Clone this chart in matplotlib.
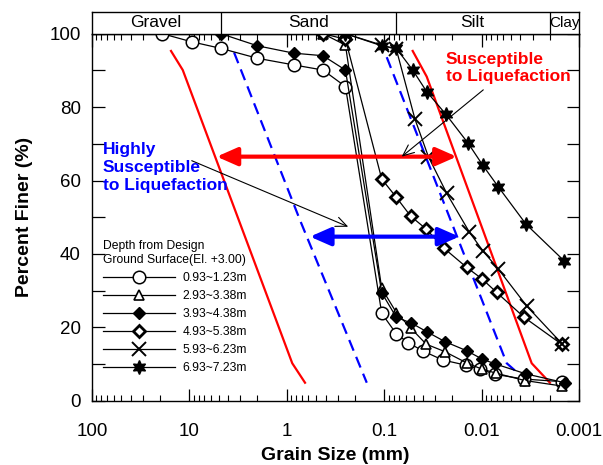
import matplotlib
matplotlib.use("Agg")
import matplotlib.pyplot as plt
from matplotlib.patches import FancyArrowPatch
from matplotlib.ticker import FixedLocator, FuncFormatter, LogLocator, NullFormatter

plt.rcParams['font.family'] = ['Liberation Sans', 'DejaVu Sans']

# ---------------- data ----------------
labels = ["0.93~1.23m", "2.93~3.38m", "3.93~4.38m", "4.93~5.38m", "5.93~6.23m", "6.93~7.23m"]

d1 = [19, 9.5, 4.75, 2.0, 0.85, 0.425, 0.25, 0.106, 0.075, 0.0566, 0.0397, 0.0251, 0.0146, 0.0104, 0.0073, 0.0037, 0.0015]
p1 = [100, 97.8, 96.0, 93.3, 91.5, 90.1, 85.6, 23.8, 18.2, 15.8, 13.5, 11.1, 9.7, 8.6, 7.2, 5.9, 5.2]

d2 = [0.425, 0.25, 0.106, 0.075, 0.053, 0.037, 0.024, 0.014, 0.0099, 0.0071, 0.0036, 0.0015]
p2 = [100, 96.9, 30.6, 24.0, 19.7, 15.4, 13.4, 10.2, 8.6, 7.5, 5.5, 4.0]

d3 = [4.75, 2.0, 0.85, 0.425, 0.25, 0.106, 0.075, 0.053, 0.0366, 0.0238, 0.0142, 0.0098, 0.0072, 0.0035, 0.0014]
p3 = [100, 96.7, 94.7, 94.0, 90.1, 29.4, 22.7, 21.2, 18.8, 16.1, 13.6, 11.3, 10.0, 7.3, 4.9]

d4 = [0.425, 0.25, 0.106, 0.075, 0.0535, 0.0372, 0.0242, 0.0142, 0.0099, 0.0070, 0.00365, 0.00151]
p4 = [100, 98.5, 60.4, 55.4, 50.3, 46.8, 41.5, 36.3, 33.2, 29.5, 22.7, 15.4]

d5 = [0.25, 0.106, 0.075, 0.0483, 0.0352, 0.0228, 0.0134, 0.00975, 0.00675, 0.00344, 0.00148]
p5 = [100, 96.9, 95.7, 76.7, 66.5, 56.5, 46.0, 40.9, 35.9, 25.8, 15.4]

d6 = [0.25, 0.106, 0.075, 0.051, 0.0366, 0.0232, 0.0137, 0.00975, 0.00675, 0.0035, 0.00142]
p6 = [100, 96.7, 96.0, 90.1, 84.2, 78.0, 70.1, 64.2, 58.3, 48.1, 38.1]

# boundary curves
red_left_d = [15.45, 11.7, 0.879, 0.65]
red_left_p = [95.3, 90.1, 10.2, 4.9]
red_right_d = [0.051, 0.0366, 0.00306, 0.00199]
red_right_p = [95.3, 88.3, 10.2, 4.9]
blue_left_d = [3.48, 0.732, 0.151]
blue_left_p = [94.9, 49.2, 4.9]
blue_right_d = [0.0942, 0.00552, 0.00344]
blue_right_p = [93.6, 10.2, 5.4]

# arrows
red_arrow_d = [5.25, 0.018]
red_arrow_p = 66.5
blue_arrow_d = [0.578, 0.01695]
blue_arrow_p = 44.7

# soil classification band
band_bounds = [4.75, 0.075, 0.002]
band_names = ["Gravel", "Sand", "Silt", "Clay"]
band_centers = [22.0, 0.6, 0.0125, 0.00142]

xticks = [100, 10, 1, 0.1, 0.01, 0.001]
xticklabels = ["100", "10", "1", "0.1", "0.01", "0.001"]

# ---------------- figure ----------------
fig = plt.figure(figsize=(6.03, 4.65), dpi=100)
L, R = 92 / 603, 579 / 603
B, T = 1 - 400.7 / 465, 1 - 33.7 / 465
BT = 1 - 12 / 465
ax = fig.add_axes([L, B, R - L, T - B])
axb = fig.add_axes([L, T, R - L, BT - T])

ax.set_xscale('log')
ax.set_xlim(100, 0.001)
ax.set_ylim(0, 100)

# boundary lines
ax.plot(red_left_d, red_left_p, color='#ff0000', lw=1.6, zorder=2)
ax.plot(red_right_d, red_right_p, color='#ff0000', lw=1.6, zorder=2)
ax.plot(blue_left_d, blue_left_p, color='#0000ff', lw=1.6, ls=(0, (5.2, 3.0)), zorder=2)
ax.plot(blue_right_d, blue_right_p, color='#0000ff', lw=1.6, ls=(0, (5.2, 3.0)), zorder=2)

lw = 0.9
kw = dict(color='black', lw=lw, zorder=3)
h1, = ax.plot(d1, p1, marker='o', ms=9, mfc='white', mec='black', mew=1.1, label=labels[0], **kw)
h2, = ax.plot(d2, p2, marker='^', ms=6.5, mfc='white', mec='black', mew=1.2, label=labels[1], **kw)
h3, = ax.plot(d3, p3, marker='D', ms=6.3, mfc='black', mec='black', mew=1.0, label=labels[2], **kw)
h4, = ax.plot(d4, p4, marker='D', ms=5.8, mfc='white', mec='black', mew=2.0, label=labels[3], **kw)
h5, = ax.plot(d5, p5, marker='x', ms=10, mec='black', mew=1.4, label=labels[4], **kw)
h6, = ax.plot(d6, p6, marker=(6, 1, 0), ms=10, mfc='black', mec='black', mew=1.0, label=labels[5], **kw)

# thick double arrows
for dd, pp, col in [(red_arrow_d, red_arrow_p, '#ff0000'), (blue_arrow_d, blue_arrow_p, '#0000ff')]:
    arr = FancyArrowPatch((dd[0], pp), (dd[1], pp),
                          arrowstyle='<|-|>,head_length=1.25,head_width=0.55',
                          mutation_scale=10, lw=3, color=col,
                          shrinkA=0, shrinkB=0, zorder=5)
    ax.add_patch(arr)

# thin pointer arrows
ax.annotate('', xy=(0.234, 47.4), xytext=(9.46, 65.4),
            arrowprops=dict(arrowstyle='->,head_length=0.8,head_width=0.35', lw=0.8, color='black',
                            shrinkA=0, shrinkB=0), zorder=6)
ax.annotate('', xy=(0.0661, 66.5), xytext=(0.00961, 84.7),
            arrowprops=dict(arrowstyle='->,head_length=0.8,head_width=0.35', lw=0.8, color='black',
                            shrinkA=0, shrinkB=0), zorder=6)

ax.text(0.0232, 95.0, "Susceptible\nto Liquefaction", color='#ff0000', fontsize=12.5,
        fontweight='bold', ha='left', va='top', linespacing=1.2, zorder=7)
ax.text(77.1, 70.4, "Highly\nSusceptible\nto Liquefaction", color='#0000ff', fontsize=12.5,
        fontweight='bold', ha='left', va='top', linespacing=1.22, zorder=7)

# ticks
ax.xaxis.set_major_locator(FixedLocator(xticks))
ax.xaxis.set_major_formatter(FuncFormatter(lambda v, pos: xticklabels[xticks.index(min(xticks, key=lambda t: abs(t - v) / t))]))
ax.xaxis.set_minor_locator(LogLocator(base=10, subs=range(2, 10), numticks=20))
ax.xaxis.set_minor_formatter(NullFormatter())
ax.set_yticks(range(0, 101, 10))
ax.yaxis.set_major_formatter(FuncFormatter(lambda v, pos: f"{int(round(v))}" if int(round(v)) % 20 == 0 else ""))
ax.tick_params(axis='both', which='major', direction='in', length=9, width=0.9,
               top=True, right=True, labelsize=13.5)
ax.tick_params(axis='x', which='minor', direction='in', length=4.5, width=0.8, top=True)
ax.tick_params(axis='x', which='major', pad=16)
ax.tick_params(axis='y', which='major', pad=8)
for s in ax.spines.values():
    s.set_linewidth(1.0)

ax.set_xlabel("Grain Size (mm)", fontsize=14, fontweight='bold', labelpad=5)
ax.set_ylabel("Percent Finer (%)", fontsize=14, fontweight='bold', labelpad=12)

# legend
leg = ax.legend(handles=[h1, h2, h3, h4, h5, h6], loc='upper left',
                bbox_to_anchor=(0.022, 0.437), frameon=False, fontsize=8.7,
                title="Depth from Design\nGround Surface(El. +3.00)", title_fontsize=8.7,
                alignment='left', handlelength=6.0, handletextpad=0.6, labelspacing=0.5,
                borderpad=0, borderaxespad=0)

# classification band
axb.set_xscale('log')
axb.set_xlim(100, 0.001)
axb.set_ylim(0, 1)
axb.set_xticks([])
axb.set_yticks([])
axb.xaxis.set_minor_locator(FixedLocator([]))
for b in band_bounds:
    axb.axvline(b, color='black', lw=0.9)
for name, c in zip(band_names, band_centers):
    axb.text(c, 0.5, name, ha='center', va='center', fontsize=11 if name == 'Clay' else 12.5)
for s in axb.spines.values():
    s.set_linewidth(1.0)

fig.savefig("out.png", dpi=100)
